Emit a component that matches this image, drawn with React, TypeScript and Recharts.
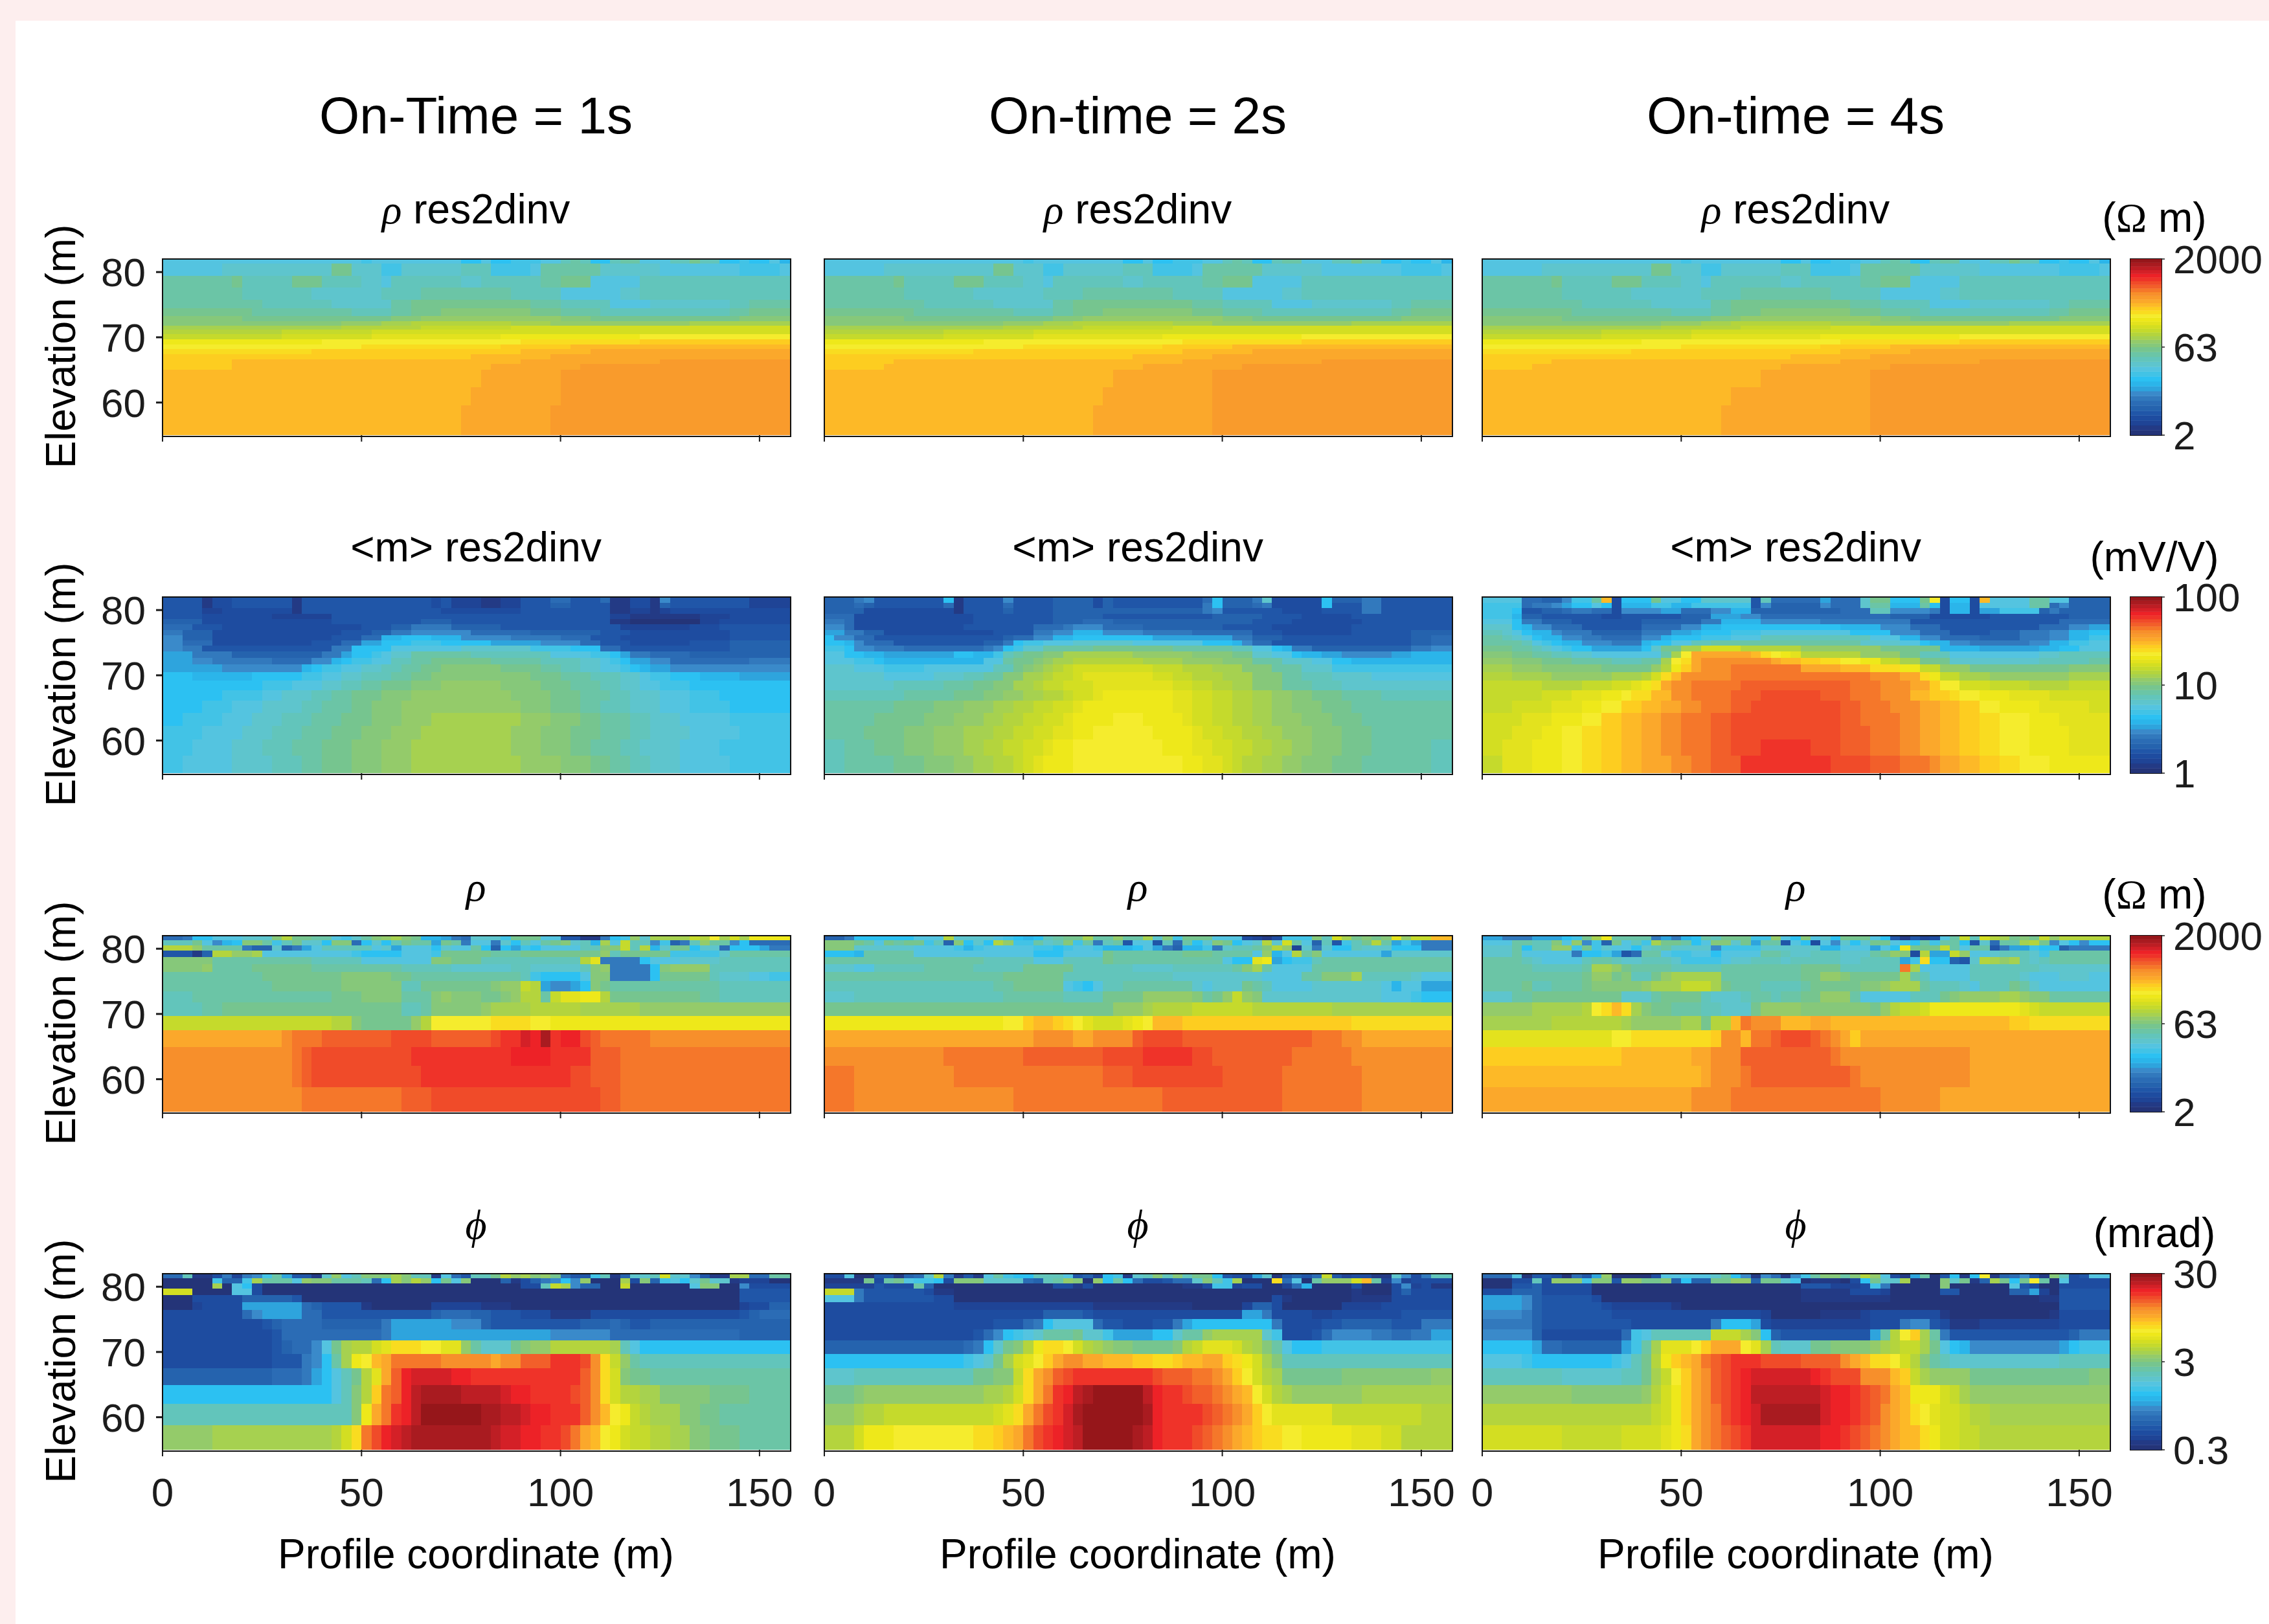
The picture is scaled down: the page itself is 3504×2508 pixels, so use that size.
import { BarChart, Bar, XAxis, YAxis } from 'recharts'

// colour levels, low to high
const LEVELS = '0123456789abcdefghijklmnopqrstuFvwxyzABCDE'
const LEVEL_COLORS = [
  '#243478', '#233a85', '#1f4496', '#1e4ca0', '#2056a8', '#2563ae', '#2b6cb5', '#3279bd', '#3a8aca', '#2ea4dd',
  '#2bb5ea', '#2cc1f2', '#42c3e6', '#54c4e0', '#5ec5cd', '#62c5bb', '#6bc5a6', '#76c58f', '#86c87a', '#94cb6a',
  '#a6d150', '#b4d43d', '#c5da2c', '#d3de22', '#e3e21e', '#eee81a', '#f5ec2d', '#f9dc20', '#fdcd20', '#fdb927',
  '#fba82b', '#f99b2c', '#f78f2b', '#f5772a', '#f25f2a', '#f04b29', '#ef3329', '#ed2227', '#d42027', '#bd1e24',
  '#a91b20', '#96161a',
]

const xTicks = [0, 50, 100, 150]
const yTicks = [60, 70, 80]
const columnTitles = ['On-Time = 1s', 'On-time = 2s', 'On-time = 4s']

// row thickness in metres, top row first
const smoothRows = [.825, .825, .825, .825, .825, .825, .825, .825, .825, .825, 1, 1, 1.155, 1.32, 1.485, 1.65, 1.815, 1.98, 2.145, 2.475, 2.74]
const bandRows = [.64, 1.87, 1.82, 1.82, 1.37, 1.14, .82, .64, .68, .68, .73, .78, .78, .73, .78, .78, .82, 2.74, 2.74, 4.65]
const modelRows = [.66, .76, .8, .96, 1.13, 1.16, 1.39, 1.59, 1.72, 2.02, 2.22, 2.55, 2.88, 3.28, 3.88]

// each row: level + run length
const rhoInvUpper = [
  'd20 c d9 b2 d b2 c3 d2 f g f b2 f g2 d3 f2 h f2 b2 c b2 d a',
  'd6 e11 h2 e3 c2 e6 f3 c4 d g6 e6 d8 c4 d',
  'g7 h f5 h3 f4 e2 d f7 e2 f6 g2 h3 d5 f15',
  'g8 f7 e7 f4 g9 f5 d6 e2 f15',
  'g10 f7 e6 g2 h12 g3 f3 f2 d4 e8 f2 g4',
  'h9 g10 f4 g2 h3 i9 h3 g4 f13 g2 h4',
  'i8 h12 h3 i3 j14 i3 h12 h3 i5',
  'i18 j4 k3 l10 k4 j14 k10',
  'k18 l8 m9 n8 n20',
  'l12 m9 n14 n28',
  'm12 n9 o13 p14 q15',
  'p16 q12 q8 r12 s15',
  'q20 r14 s7 t22',
  'r15 s21 t7 u20',
  's31 t8 u24',
  's7 t29 u14 F13',
]
const rhoInvLower1 = ['s7 t26 u9 F21', 't32 u8 F23', 't31 u9 F23', 't30 u9 F24']
const rhoInvLower2 = ['s6 t26 u10 F21', 't29 u10 F24', 't28 u11 F24', 't27 u12 F24']
const rhoInvLower3 = ['s5 t25 u11 F22', 't28 u11 F24', 't25 u14 F24', 't24 u15 F24']

const chargeInv1 = [
  '44 1 32 46 1 413 3 4 23 12 22 43 62 43 6 12 32 1 8 48 24',
  '44 1 32 46 1 413 3 4 23 12 22 43 52 43 4 12 32 1 5 48 24',
  '44 22 37 1 414 38 49 12 22 1 2 36 36',
  '44 37 26 49 410 49 22 17 23 36',
  '54 38 35 49 53 45 411 12 07 22 37',
  '63 43 314 43 52 74 55 412 27 33 47',
  '72 53 313 43 52 72 86 66 57 43 36 34 46',
  '82 53 312 43 62 a2 b3 a3 85 75 63 43 36 35 46',
  '82 63 310 43 62 92 b3 c3 b5 95 84 62 43 36 44 56',
  '82 72 410 43 72 b4 d7 e7 c4 b3 62 43 48 56',
  '93 74 56 53 72 9 b2 c d e2 g6 f8 d4 c2 b 9 72 64 510',
  '93 82 76 64 82 a b c2 d2 f2 g2 h6 g5 f4 e2 d c b 92 82 68 75',
  '96 87 8 a b c2 d2 e2 f2 g2 h2 i6 h4 g2 f2 e2 d2 c b a 92 812',
  'b3 a6 b5 c2 d2 e2 f3 g2 h2 i10 h3 g3 f3 e2 d c2 b3 a4 95',
  'b10 c3 d3 e2 f2 g2 h3 i3 j6 i4 h3 g3 f2 e2 d2 c3 b10',
  'b6 c4 d2 e3 f2 g2 h3 i3 j10 i4 h3 g3 f2 e3 d3 c3 b7',
  'b4 c3 d3 e4 f2 g3 h2 i3 j12 i3 h3 g2 f3 e3 d3 c4 b6',
  'b2 c4 d3 e3 f3 g3 h3 i3 j3 k9 j3 i3 h2 g3 f2 e3 d5 c6',
  'c4 d4 e3 f3 g3 h3 i3 j3 k9 j3 i3 h3 g3 f2 e4 d5 c5',
  'c3 d4 e3 f3 g3 h3 i3 j3 k10 j3 i3 h2 g3 f2 e4 d4 c7',
  'c2 d5 e4 f3 g2 h3 i3 j3 k11 j4 i3 h2 g2 f2 e3 d5 c6',
]
const chargeInv2 = [
  '53 7 8 47 b 1 44 8 44 54 3 5 49 6 b 53 7 e 34 3 b 53 72 47',
  '53 6 5 47 6 1 44 6 44 54 3 5 49 7 b 53 6 7 34 3 b 43 72 47',
  '53 5 39 1 44 5 44 515 7 8 46 34 44 72 47',
  '63 312 48 55 411 55 44 35 410',
  '72 6 312 48 53 63 514 44 37 49',
  '82 6 311 47 63 7 83 64 58 45 38 410',
  '92 72 52 311 44 72 82 a3 84 75 63 63 43 37 46 54',
  'b 82 62 413 5 62 82 a2 b8 96 92 72 53 48 45 52 62',
  'b2 a 8 63 49 52 7 b c2 d3 e6 d7 b3 a 8 62 43 48 43 52 62',
  'c2 b 82 73 68 7 8 b c e2 g5 h8 g6 f2 d2 b a 72 54 56 72 82',
  'd2 b2 a2 97 b2 a2 c f g h2 i2 k7 j6 i4 h2 e2 d2 b a2 92 85 92 a4',
  'd3 c2 b a10 d2 g h2 i j k2 l7 k4 j4 i3 g3 e3 d2 b2 a10',
  'e3 d3 c4 d7 f2 h i j k l m n8 m3 l3 k3 i3 g3 e3 c12',
  'e6 d5 e3 f2 g2 i2 k2 l m2 n o7 n2 m2 l3 k3 i3 g2 f3 e4 d8',
  'e7 f5 g3 h2 i2 k2 l m2 n3 o8 n2 m2 l2 k2 i3 g3 f3 e11',
  'f8 g5 h3 i2 j2 k2 l2 m n2 o p7 o2 n2 m2 l2 k2 j2 i2 h3 g4 f7',
  'g7 h4 i3 j3 k2 l2 m2 n2 o p9 o2 n2 m2 l2 k2 j2 i3 h3 g10',
  'g5 h5 i3 j3 k2 l2 m2 n2 o p4 q3 p4 o n2 m2 l2 k2 j3 i3 h3 g9',
  'g4 h4 i3 j3 k3 l2 m2 n2 o2 p2 q6 p4 o n2 m2 l2 k2 j3 i3 h3 g8',
  'f2 g3 h3 i3 j3 k2 l2 m2 n2 o p2 q9 p3 o2 n2 m2 l2 k2 j2 i3 h3 g6 f2',
  'f2 g5 h3 i3 j2 k2 l2 m n o p3 q11 p2 o2 n m l2 k2 j2 i3 h3 g7 f2',
]
const chargeInv3 = [
  'd4 62 52 8 c2 g t 3 b3 h d2 b2 e5 4 f 65 9 63 e h2 b3 h q 3 b2 3 t d4 g2 d2 54',
  'c4 6 72 8 9 b2 d b 3 a3 c2 a2 c6 4 8 55 8 63 e g2 a3 g b 3 a2 3 d5 g2 6 8 54',
  'c3 b 42 52 6 72 62 3 84 92 63 82 a2 52 57 63 f2 84 7 3 a2 3 92 c4 5 7 5 54',
  'c3 a 52 46 32 46 53 93 82 62 68 63 54 36 44 44 54',
  'd3 b 72 53 47 56 72 a4 86 76 73 48 47 65',
  'e3 b a 82 63 46 64 82 a2 b4 b8 a4 83 63 410 63 82 92',
  'f2 e d b a2 8 73 55 73 92 a b3 c3 d9 b4 83 63 44 53 73 82 a2 b2',
  'g2 f e d b a2 82 72 64 82 a b3 c3 d3 f11 d3 a2 82 64 54 73 82 a2 c2',
  'g4 f d c b a2 83 73 a b2 d2 f2 g3 g12 e4 d2 b a2 82 72 74 82 a2 c2 d2',
  'h3 g2 f e d c b2 95 b e h2 k2 n4 l6 j8 h6 a4 96 a2 b2 d3',
  'i3 h2 g2 f2 e2 d7 g k q u6 t r q p o l6 j4 h2 f3 d9 e2 f5',
  'j3 i3 h3 g4 f3 g2 k q r u v7 u t2 s2 r2 q2 p2 m2 k2 h3 e9 f5 g2',
  'k3 j3 i6 h5 j l p s u v3 w7 u4 t3 r3 p2 m2 j3 h5 h5 i4',
  'l3 k4 j6 k3 l n r t v5 w8 w4 w2 v3 u2 r p m2 k3 j8 k4',
  'm6 l4 m3 n2 o p r u v2 w5 x11 w3 v3 u2 s q2 n3 m4 l4 m4',
  'm6 n3 o3 p2 q r2 t2 v2 w4 x3 y6 x3 w3 v3 t2 s2 r q2 p3 o4 n6',
  'm3 n4 o3 p2 q2 s2 t2 u2 v2 w3 x2 y9 x2 w3 v3 u2 t2 s2 q2 p4 o5 n2',
  'n4 o3 p3 q2 s2 t2 u2 v2 w3 x2 y11 x2 w4 v2 u2 t2 s2 r2 q3 p3 o5',
  'n3 o3 p2 q2 r2 s2 t2 u2 v2 w3 x2 y11 x3 w3 v2 u2 t2 s2 r2 q3 p4 o4',
  'n2 o3 p3 q2 r2 s2 t2 u2 v2 w3 x2 y3 z5 y3 x3 w3 v2 u2 t2 s2 r2 q3 p4 o4',
  'm2 o3 p3 q2 r2 s2 t2 u3 v2 w2 x3 z9 y4 x3 w3 v u2 t2 s2 r2 q3 p6',
]

const rhoModel1 = [
  '62 7 b2 d3 e3 i l h2 g2 d c e g i j k i h a2 9 7 6 e3 c h3 d2 42 12 7 b c j e k4 m l q k n k p2',
  'f3 h d 8 a b i2 g c f h e2 b i2 6 b e b f h g2 9 h g 7 d2 7 e b f d g h i e f a k d m f2 8 c 5 7 f j g2 8 b 64',
  'l3 j g4 7 52 e 5 7 9 d f5 d e 9 d3 b e d2 g b 5 b 9 c b d4 f2 i2 m f l a e h2 b e2 6 b3 9 72',
  '43 1 5 l2 j2 k d9 c b4 d3 c h5 g3 h8 j f h5 c5 e g6',
  'i5 g10 f5 d7 i2 h3 f10 l o 74 b d3 e4 f7',
  'i4 j g4 h6 g9 f5 e6 f2 e5 f i j 74 b i j4 f8',
  'g10 h8 i5 h2 g11 f c b4 d i2 74 b h5 f e3 d2 c2',
  'g11 h7 i6 f2 h7 i j2 m l 9 82 9 b i h g11 f7',
  'f3 g14 h3 i4 g3 i j i3 h2 i j l2 g m o2 p2 l h9 g2 f7',
  'f4 g2 h18 f2 g i5 j k2 k2 l5 k6 j15',
  'm17 l2 i h5 j l q6 r4 q2 p24',
  'u12 v w3 x7 y4 x6 y z2 B A D z A2 y x w5 v14',
  'v13 w x y10 z10 A4 z4 x3 w17',
  'v13 w x y11 z15 y2 x3 w17',
  'v14 w10 x3 y17 x2 w17',
]
const rhoModel2 = [
  '52 7 b6 d3 l e4 d c b a b f g h2 k g2 j g2 k e i c h3 d3 3 2 1 3 c3 i f n k h i h i o j m2 t2',
  'i3 h g d h g h2 c f 5 i b e b l j c2 g e f i c g 7 f g 4 d2 4 f 6 g b e i h b d e l e n g d 5 f 4 c f h l g 9 c 9 73',
  'i3 e6 d4 c a c d5 c c b c d2 c a3 b d 9 7 5 a2 c 7 e f2 g i l j 2 e 7 e b2 f e3 b2 b 73',
  'b3 a g5 d7 d5 b3 d4 h g7 h3 g4 d j a d l g i d6 9 e6',
  'g16 f5 d3 f4 h g11 d b2 o p 9 b c2 f g13',
  'e3 d2 f5 g5 f5 h5 f6 e4 f6 g i k g d4 g6 g8',
  'g17 g h6 f11 e9 d4 g2 i3 k f5 e d3',
  'f17 g2 h5 d c b d f2 g7 e d e3 h g f d4 e7 d a d2 93',
  'e3 f15 g6 f4 h4 j5 i g h j m j i e12 d3 c b3',
  'h27 h2 j3 k l4 m6 l8 k12',
  'p18 q2 s t2 s r q o n3 o p q t3 s17 r10',
  'u10 u11 v4 u2 v3 v x y y3 x4 x9 w2 w v2 u9',
  'v12 w3 w5 x3 x5 y y3 z5 y2 x8 w3 w3 v10',
  'w3 v10 w11 w4 x x2 y9 x6 w4 w4 v9',
  'w3 v16 w15 x12 w8 v9',
]
const rhoModel3 = [
  '92 73 93 b c h k p g4 7 9 7 a b g f h3 c2 j d b i d e b h3 d b 4 1 4 2 3 d g m f n l k h i h m j l5',
  'd3 g2 f2 i d j 8 c 5 h d f c k h2 g b d i2 e h 9 g2 4 d b 3 d 8 e b e h2 d c b g c g2 b 4 e 6 g2 k l h 8 d b 8 b3',
  'e3 g b f2 j2 c h c e d2 b e f g e4 8 c4 e2 e4 a2 d2 d 9 d b p h3 m g d g2 4 7 92 c b b 5 74',
  'e3 g d5 7 b2 c 9 4 6 g g d c2 d2 b d d3 g2 f e2 f3 e3 g h j i 3 l 92 m j d2 e f2 f e c g6',
  'g4 f e d4 f g2 f e2 f3 e c4 d e2 f3 e f4 f e2 f4 9 c r b2 5 4 e l k j k f e f g6',
  'g5 f5 g k2 j h g4 f5 g4 g4 h4 f6 w k d5 f7 e7',
  'g10 h j2 h i f2 h j k5 g8 h2 j2 i h5 k g f d4 f f4 e d d2 e e2 d2',
  'g4 h f2 g3 h i4 i j k k2 m3 k h g g2 f4 g h5 i2 j k3 g f3 e d f3 h g e d4 d d2',
  'e3 g g h9 e3 g h3 h f e3 f g2 f g2 h2 j3 g d d2 d2 f2 f h i j j3 k2 j i i g6',
  'j5 k5 l q r t r k i h2 g2 g f2 e3 h j4 i7 h j l m2 n p9 o n m7',
  'k7 l7 k j5 k2 h l2 t w v2 v t3 u2 t18 s2 r8',
  'o13 q2 r8 s v2 t w2 x y3 x w v u s u25',
  's14 t7 u2 v3 x9 w v5 v8 u14',
  't17 t5 u v3 w x8 x2 w v4 v7 u14',
  'u21 v4 w15 v6 u17',
]

const phiModel1 = [
  '62 f 12 3 7 2 7 8 c g 9 42 1 e j d f i3 k i f2 1 d 6 4 f2 h l j k i j h 6 42 c f 1 5 e2 f n e2 8 4 12 k2 62 g2',
  '05 c 52 c k g3 d j i2 g3 f 6 b k i l j b h d i 03 5 1 3 5 7 8 b 8 j 03 k 3 i 5 c d b e h e2 1 23 02',
  '05 k 0 d b 3 026 32 f m k 8 52 02 m 06 d i2 02 8 32 32',
  'n3 04 d2 3 048 45',
  '03 3 34 55 4 04 02 038 45',
  '03 2 34 96 6 5 44 1 06 25 12 1 023 2 32 52',
  '38 6 8 94 6 6 49 42 5 63 52 43 33 14 315 4 5 63',
  '310 4 5 64 56 7 96 83 5 49 53 6 5 42 5 513',
  '310 3 4 610 7 916 86 6 612 55',
  '310 3 4 5 62 8 d h k l2 n o r3 q2 o o j g e3 h i j2 l6 k f d b15',
  '311 4 42 7 8 b g k p q t u w5 v2 v3 u v2 x3 z3 y v r m j g f15',
  '511 63 7 9 b d f h l o u x A B B3 A2 z3 z7 z x v r n i h2 g14',
  'b17 d f i l s w x A C D4 C4 B A2 z3 z y x v r n l2 k2 i5 h4 g4',
  'f19 i p u w z A C E6 D2 C2 B A A z3 x v t q p m l k k2 i2 h2 g7',
  'j5 k12 l n r w y A B C D8 C B2 A2 z2 y w u t q p n m2 l2 k2 i2 h3 g5',
]
const phiModel2 = [
  '32 d 02 42 1 5 6 e l 7 1 4 1 d g c b2 f3 d 4 5 2 b c 1 e f i f i f h2 b 4 32 9 e 0 4 5 4 6 m 4 2 32 12 e 8 3 7 f2',
  '14 h 3 g h d c2 b 3 i3 e4 6 5 f g j i 0 j b g b 6 32 4 62 e i f c k 03 r 6 d 0 g j3 n t g 2 8 2 34',
  '25 4 33 g 5 012 32 1 3 09 12 3 c2 2 32 02 2 6 a 04 3 03 3 8 2 3 12',
  'm3 7 46 3 12 040 1 03 3 5 32 32',
  'd3 7 47 32 032 3 1 06 14 36',
  '313 214 110 05 2 52 3 06 2 23 37',
  '322 54 4 315 92 7 3 33 22 3 34 32 45',
  '317 43 6 7 b d4 6 42 33 42 7 9 b4 b2 b2 7 3 33 4 4 55 43 73',
  '315 4 6 8 b c d e g3 h e2 c 94 b2 e g2 j k5 e c 33 4 6 84 72 62 72 92',
  '512 52 6 7 b e h i l p r2 q n l k j i2 h4 i l m o3 n l k i g d b3 c13',
  'b14 c d e h k n o q s u v2 u2 t t2 s2 r2 s t2 u2 s r p n k i f5 f12',
  'e3 f12 h2 i2 m r u v x y z6 z2 y x3 w2 v u s q n l k h6 i9 j2',
  'h3 i j12 k2 l n r u w z A C D E E4 C A z2 y x2 w v u t q n l k j7 k9',
  'j3 k l2 m11 n o r u w y z B D E6 D A z z3 y x w v u s q o6 m9 l3',
  'l3 n p3 q8 r2 s t u w y z A B C E5 D C A z2 z y x w v u t s r2 q2 p5 o3 n2 l5',
]
const phiModel3 = [
  '63 d 0 42 3 0 6 4 9 j 04 3 d5 e g b 8 1 8 6 1 8 c g i2 g i l j d 3 1 9 g 0 4 b 1 b q 1 5 6 8 4 1 i f 3 4 d2',
  '03 32 f 3 j3 c i2 4 j2 h2 i 5 b 52 h2 j2 5 h2 e c 0 13 0 3 b h e2 k 03 i e h 1 5 k h b h q g 0 d 3 33',
  '03 42 5 35 021 43 23 3 c 7 05 i 06 d 4 3 02 35',
  '33 52 5 35 021 15 33 2 05 42 05 52 9 2 0 45',
  '94 8 5 45 3 020 19 015 12 45',
  '94 8 5 46 3 26 1 038 45',
  '84 7 5 47 37 33 35 2 05 14 2 37 1 010 1 35',
  '75 5 49 38 7 b3 9 3 210 33 7 82 4 3 13 28 35',
  '85 5 38 6 c d f6 m3 k i b 5 48 4 9 g l q s k g 7 4 411 5 73',
  'b5 9 62 55 5 9 c g k o3 q s u3 q o k f e3 h2 i4 j k l m2 k h d b a 89 9 b c3',
  'd4 c b6 b2 c d f h l p s t u w x y z2 z y4 x3 x v u t r2 q n l i g f e e10 f5',
  'f8 e6 f2 h k m q s u v x y z A B6 A z y3 v v2 t s m k j4 h12 i2',
  'j9 i7 j l n p s u v x y z A C7 B A2 z y x w u t p3 n m k j13',
  'l17 m n p s u v w y z A B D6 B A2 z y x v u t r q o n2 m l2 k12',
  'n8 m6 n4 o p r u v w x y z B7 A2 z y x w v u t2 r p n2 m2 l13',
]

const COLUMNS = 63
const COLUMN_WIDTH = 2.5
const columnCentres = Array.from({ length: COLUMNS }, (_, i) => (i + 0.5) * COLUMN_WIDTH)

const font = '"Liberation Sans", Arial, sans-serif'
const serif = '"Liberation Serif", "Times New Roman", serif'
const ink = '#1c1c1c'

const colX = [251, 1273, 2289]
const rowY = [400, 922, 1445, 1967]
const plotW = 968
const plotH = 272
const TOP = 40

function expandRow(row: string) {
  const cells: string[] = []
  row.trim().split(/\s+/).forEach(t => {
    const n = t.length > 1 ? Number(t.slice(1)) : 1
    for (let i = 0; i < n; i++) cells.push(t[0])
  })
  while (cells.length < COLUMNS) cells.push(cells[cells.length - 1])
  return cells.slice(0, COLUMNS)
}

const levelColor = (ch: string) => LEVEL_COLORS[LEVELS.indexOf(ch)]

// drawn over the finished chart, the bars would otherwise cover it
function Frame({ x, y, w, h, width }: { x: number; y: number; w: number; h: number; width: number }) {
  return (
    <div style={{
      position: 'absolute', left: x - width / 2, top: y - width / 2, width: w, height: h,
      border: `${width}px solid #111`, pointerEvents: 'none', zIndex: 1,
    }} />
  )
}

function Heatmap({ rows, thickness, col, row }: { rows: string[]; thickness: number[]; col: number; row: number }) {
  const showY = col === 0
  const showX = row === 3
  const left = showY ? 210 : 50
  const bottom = showX ? 200 : 30
  const grid = rows.map(expandRow)
  const data = columnCentres.map(x => {
    const d: Record<string, number> = { x, base: 55 }
    thickness.forEach((t, r) => { d[`r${r}`] = t })
    return d
  })
  // stack from the deepest row upward
  const order = thickness.map((_, r) => thickness.length - 1 - r)

  // cell drawn a little oversize with crisp edges so neighbours leave no seam
  const cellShape = (r: number) => (p: any) => {
    const c = levelColor(grid[r][p.index])
    return <rect x={p.x + p.width / 2 - 8} y={p.y} width={16} height={p.height + 0.8} fill={c} shapeRendering="crispEdges" />
  }

  return (
    <>
      <div style={{ position: 'absolute', left: colX[col] - left, top: rowY[row] - TOP }}>
        <BarChart width={left + plotW + 40} height={TOP + plotH + bottom} data={data} barSize={16}
          margin={{ top: TOP, right: 40, bottom: 0, left: showY ? 0 : left }}>
          <XAxis dataKey="x" type="number" domain={[0, 157.5]} ticks={xTicks} interval={0} height={bottom}
            axisLine={false} tickSize={10} tickMargin={33}
            tickLine={{ stroke: ink, strokeWidth: 2 }}
            tick={{ fontSize: 62, fill: ink, fontFamily: font }}
            tickFormatter={(v: number) => (showX ? String(v) : '')}
            label={showX ? { value: 'Profile coordinate (m)', position: 'insideBottom', offset: 17, fontSize: 64, fill: '#000', fontFamily: font } : undefined} />
          <YAxis type="number" domain={[55, 82]} ticks={yTicks} interval={0} allowDataOverflow hide={!showY} width={210}
            axisLine={false} tickSize={10} tickMargin={16}
            tickLine={{ stroke: ink, strokeWidth: 3 }}
            tick={{ fontSize: 62, fill: ink, fontFamily: font }} />
          <Bar dataKey="base" stackId="s" fill="none" stroke="none" isAnimationActive={false} />
          {order.map(r => (
            <Bar key={r} dataKey={`r${r}`} stackId="s" isAnimationActive={false} shape={cellShape(r)} />
          ))}
        </BarChart>
      </div>
      <Frame x={colX[col]} y={rowY[row]} w={plotW} h={plotH} width={2.5} />
    </>
  )
}

// colour bar share per level: below mid scale the levels are wider than above it
const barShare = LEVELS.split('').map((_, i) => (i < 18 ? 50 / 18 : 50 / 24))
const barDatum = (() => {
  const d: Record<string, number | string> = { name: 'scale' }
  barShare.forEach((v, i) => { d[`l${i}`] = v })
  return [d]
})()
const scaleTicks = [0, 50, 100]

function ColorBar({ labels, row }: { labels: string[]; row: number }) {
  return (
    <>
      <div style={{ position: 'absolute', left: 3290, top: rowY[row] - 45 }}>
        <BarChart width={214} height={plotH + 90} data={barDatum} barCategoryGap={0}
          margin={{ top: 45, right: 0, bottom: 45, left: 0 }}>
          <XAxis dataKey="name" hide />
          <YAxis orientation="right" type="number" domain={[0, 100]} ticks={scaleTicks} interval={0} width={166}
            axisLine={false} tickSize={5} tickMargin={13}
            tickLine={{ stroke: ink, strokeWidth: 1.5 }}
            tick={{ fontSize: 62, fill: ink, fontFamily: font }}
            tickFormatter={(_: number, i: number) => labels[i]} />
          {barShare.map((_, i) => (
            <Bar key={i} dataKey={`l${i}`} stackId="c" fill={LEVEL_COLORS[i]} stroke={LEVEL_COLORS[i]} strokeWidth={0.5} isAnimationActive={false} />
          ))}
        </BarChart>
      </div>
      <Frame x={3290} y={rowY[row]} w={48} h={plotH} width={1.5} />
    </>
  )
}

function Caption({ x, y, size, rotate, children }: { x: number; y: number; size: number; rotate?: boolean; children: React.ReactNode }) {
  return (
    <div style={{
      position: 'absolute', left: x, top: y, transform: `translate(-50%, -50%)${rotate ? ' rotate(-90deg)' : ''}`, whiteSpace: 'nowrap',
      fontFamily: font, fontSize: size, lineHeight: 1, color: '#000', zIndex: 2,
    }}>{children}</div>
  )
}

const Greek = ({ children }: { children: React.ReactNode }) => (
  <span style={{ fontFamily: serif, fontStyle: 'italic' }}>{children}</span>
)

const panelRows = [
  [[...rhoInvUpper, ...rhoInvLower1], [...rhoInvUpper, ...rhoInvLower2], [...rhoInvUpper, ...rhoInvLower3]],
  [chargeInv1, chargeInv2, chargeInv3],
  [rhoModel1, rhoModel2, rhoModel3],
  [phiModel1, phiModel2, phiModel3],
]
const rowThickness = [bandRows, smoothRows, modelRows, modelRows]
const barLabels = [['2', '63', '2000'], ['1', '10', '100'], ['2', '63', '2000'], ['0.3', '3', '30']]
const rowTitleY = [323, 845, 1369, 1891]
const unitY = [336, 860, 1381, 1904]

export default function App() {
  const centres = colX.map(x => x + plotW / 2)
  const rowTitles = [
    <><Greek>ρ</Greek> res2dinv</>,
    <>&lt;m&gt; res2dinv</>,
    <Greek>ρ</Greek>,
    <Greek>ϕ</Greek>,
  ]
  const units = [
    <>(<span style={{ fontFamily: serif }}>Ω</span> m)</>,
    <>(mV/V)</>,
    <>(<span style={{ fontFamily: serif }}>Ω</span> m)</>,
    <>(mrad)</>,
  ]
  return (
    <div style={{ position: 'absolute', left: 0, top: 0, width: 3504, height: 2508, background: '#fdeeee', overflow: 'hidden' }}>
      <div style={{ position: 'absolute', left: 24, top: 32, right: 0, bottom: 0, background: '#fff' }} />
      {columnTitles.map((t, c) => <Caption key={t} x={centres[c]} y={179} size={80}>{t}</Caption>)}
      {rowY.map((_, r) => colX.map((_, c) => (
        <div key={`${r}-${c}`}>
          <Caption x={centres[c]} y={rowTitleY[r]} size={64}>{rowTitles[r]}</Caption>
          <Heatmap rows={panelRows[r][c]} thickness={rowThickness[r]} col={c} row={r} />
        </div>
      )))}
      {rowY.map((y, r) => (
        <div key={r}>
          <Caption x={94} y={y + 135} size={64} rotate>Elevation (m)</Caption>
          <Caption x={3327} y={unitY[r]} size={64}>{units[r]}</Caption>
          <ColorBar labels={barLabels[r]} row={r} />
        </div>
      ))}
    </div>
  )
}
